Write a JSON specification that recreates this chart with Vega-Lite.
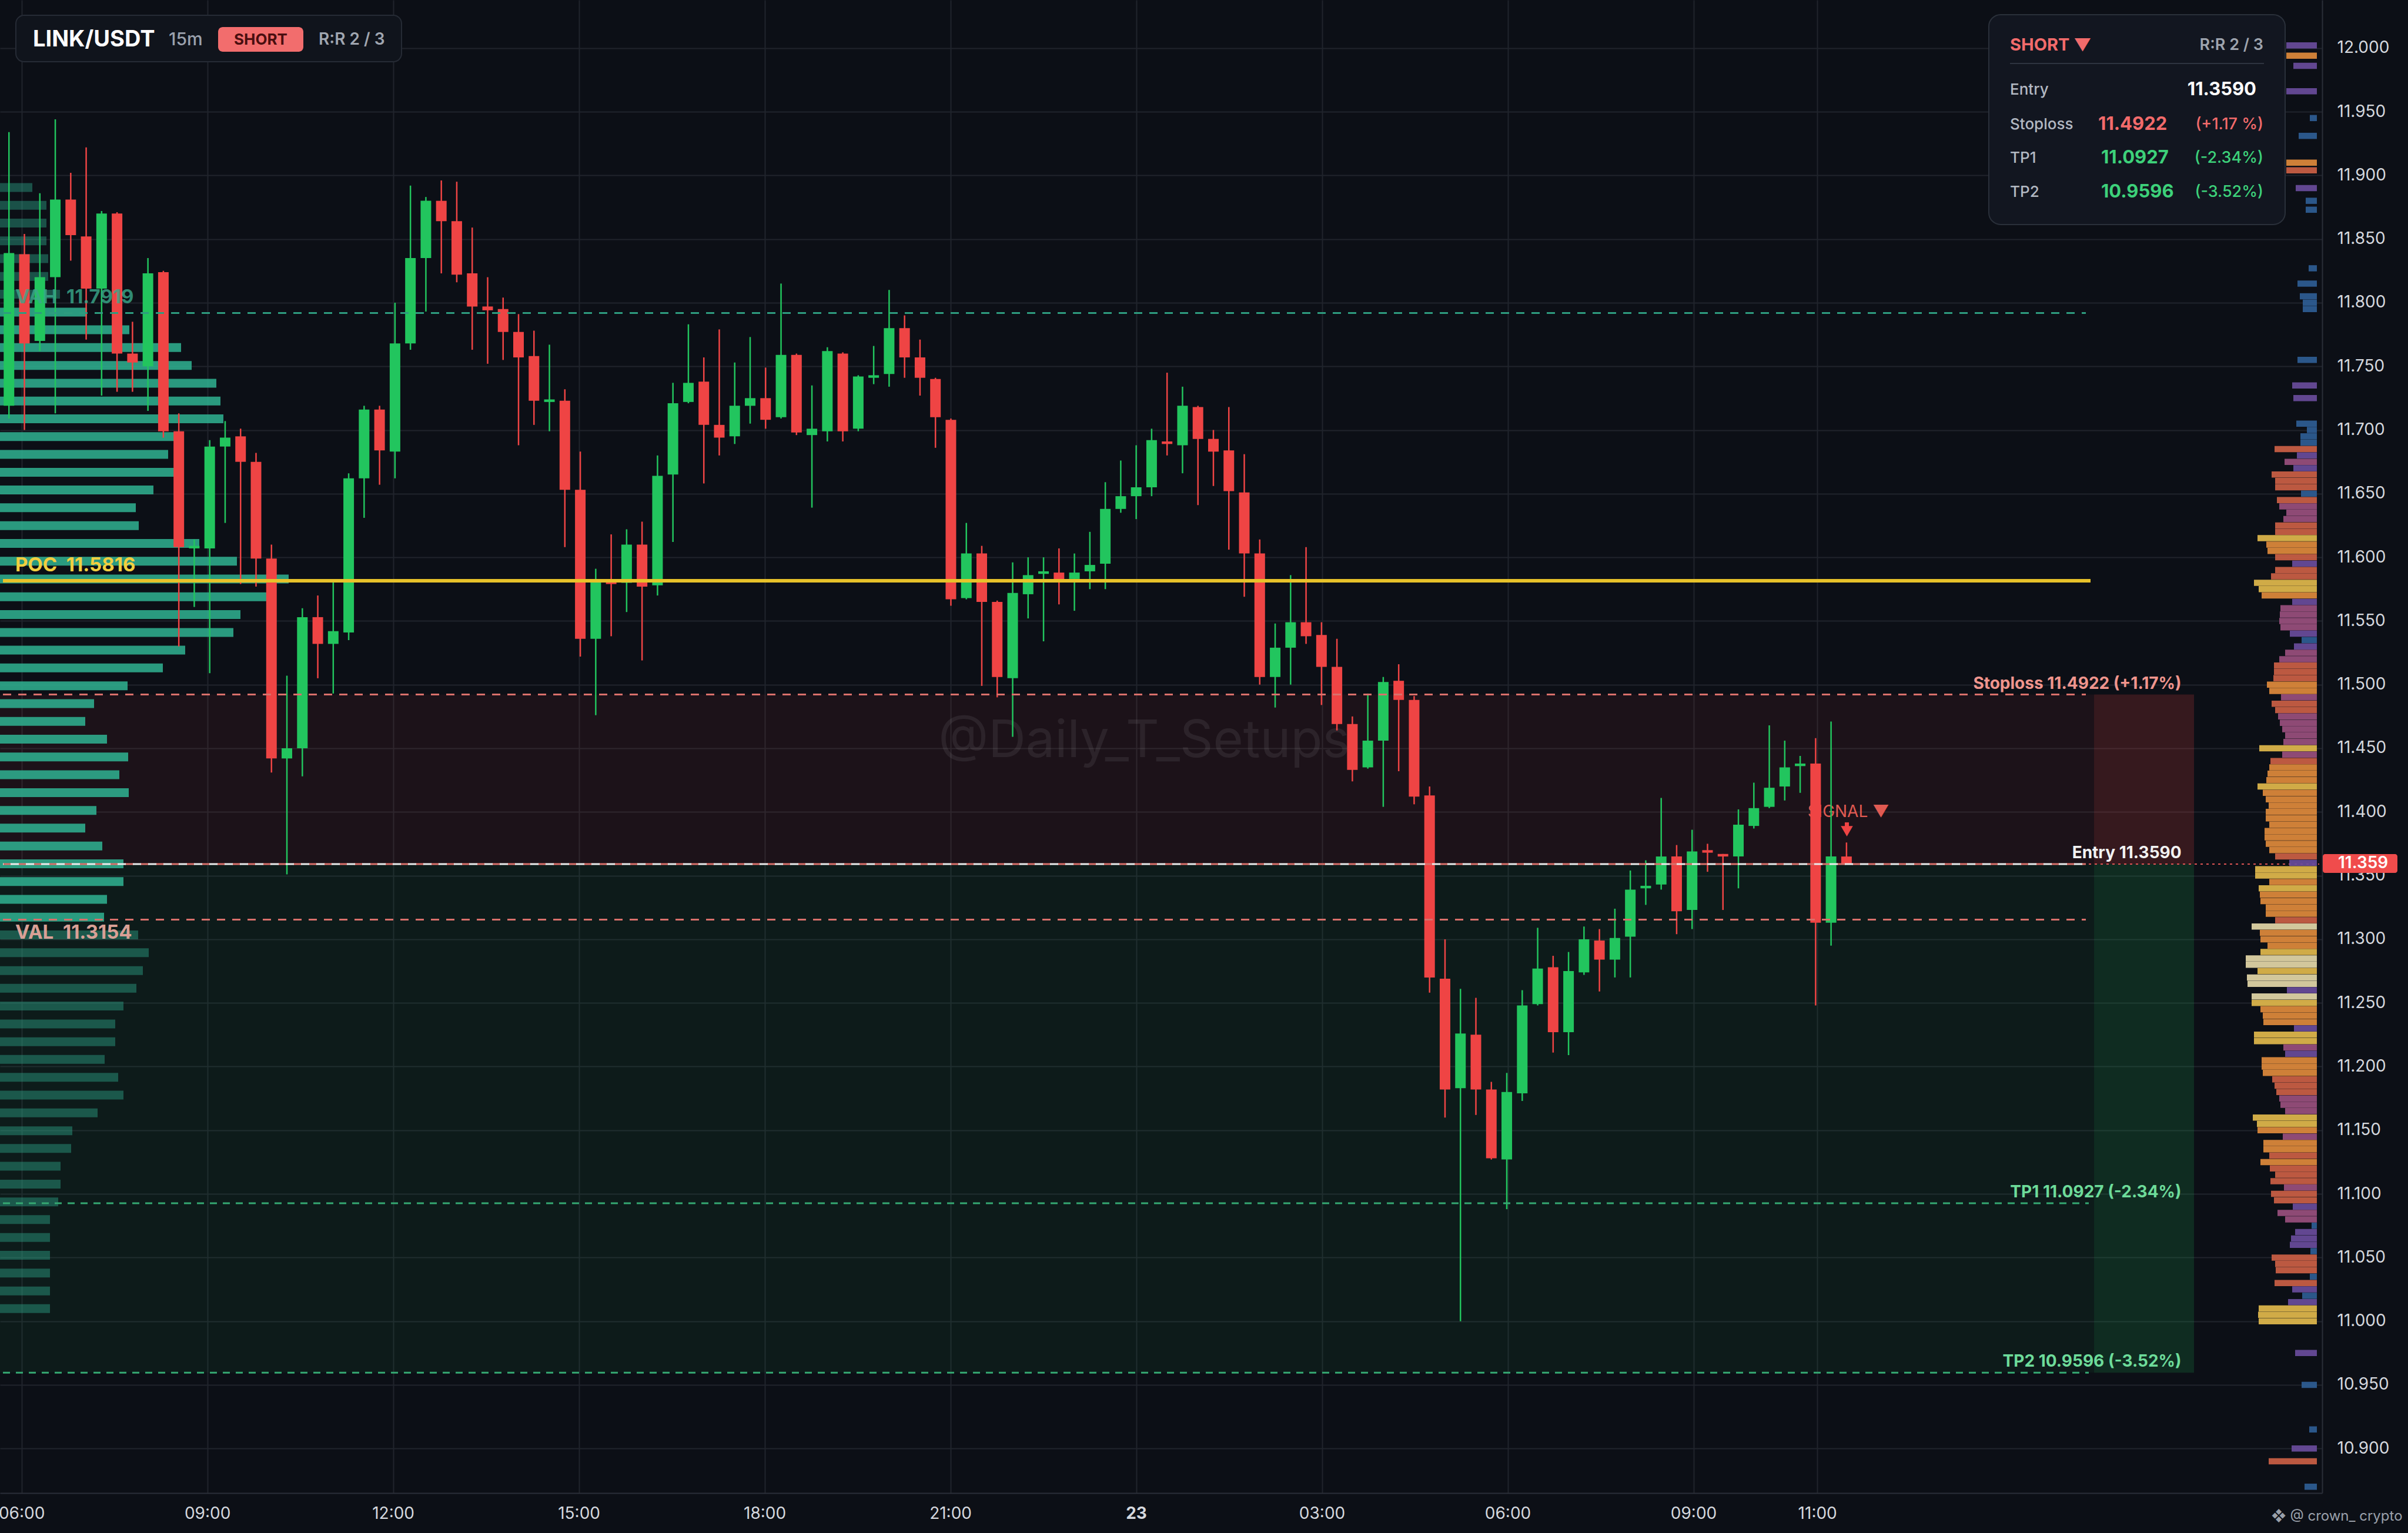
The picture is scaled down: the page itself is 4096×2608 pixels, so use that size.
{
  "$schema": "https://vega.github.io/schema/vega-lite/v6.json",
  "width": 3950,
  "height": 2540,
  "autosize": {"type": "none"},
  "padding": {"left": 0, "top": 0, "right": 146, "bottom": 68},
  "background": "#0c0f16",
  "config": {"view": {"stroke": null}, "font": "Inter"},
  "data": {"values": [{}]},
  "datasets": {
    "candles": [
      {"h":5.75,"o":11.719,"hi":11.934,"lo":11.709,"c":11.839},
      {"h":6,"o":11.838,"hi":11.854,"lo":11.700,"c":11.768},
      {"h":6.25,"o":11.770,"hi":11.886,"lo":11.762,"c":11.820},
      {"h":6.5,"o":11.820,"hi":11.944,"lo":11.713,"c":11.881},
      {"h":6.75,"o":11.881,"hi":11.902,"lo":11.833,"c":11.853},
      {"h":7,"o":11.852,"hi":11.922,"lo":11.771,"c":11.811},
      {"h":7.25,"o":11.811,"hi":11.872,"lo":11.727,"c":11.870},
      {"h":7.5,"o":11.870,"hi":11.871,"lo":11.730,"c":11.760},
      {"h":7.75,"o":11.760,"hi":11.785,"lo":11.730,"c":11.753},
      {"h":8,"o":11.750,"hi":11.835,"lo":11.715,"c":11.823},
      {"h":8.25,"o":11.824,"hi":11.825,"lo":11.694,"c":11.699},
      {"h":8.5,"o":11.699,"hi":11.713,"lo":11.530,"c":11.608},
      {"h":8.75,"o":11.607,"hi":11.614,"lo":11.561,"c":11.609},
      {"h":9,"o":11.607,"hi":11.692,"lo":11.509,"c":11.687},
      {"h":9.25,"o":11.687,"hi":11.707,"lo":11.627,"c":11.694},
      {"h":9.5,"o":11.695,"hi":11.701,"lo":11.579,"c":11.675},
      {"h":9.75,"o":11.675,"hi":11.682,"lo":11.577,"c":11.599},
      {"h":10,"o":11.599,"hi":11.610,"lo":11.431,"c":11.442},
      {"h":10.25,"o":11.442,"hi":11.507,"lo":11.351,"c":11.450},
      {"h":10.5,"o":11.450,"hi":11.560,"lo":11.428,"c":11.553},
      {"h":10.75,"o":11.553,"hi":11.570,"lo":11.505,"c":11.532},
      {"h":11,"o":11.532,"hi":11.581,"lo":11.493,"c":11.542},
      {"h":11.25,"o":11.541,"hi":11.666,"lo":11.535,"c":11.662},
      {"h":11.5,"o":11.662,"hi":11.719,"lo":11.631,"c":11.716},
      {"h":11.75,"o":11.716,"hi":11.719,"lo":11.657,"c":11.684},
      {"h":12,"o":11.683,"hi":11.800,"lo":11.662,"c":11.768},
      {"h":12.25,"o":11.768,"hi":11.892,"lo":11.763,"c":11.835},
      {"h":12.5,"o":11.835,"hi":11.883,"lo":11.793,"c":11.880},
      {"h":12.75,"o":11.880,"hi":11.896,"lo":11.823,"c":11.864},
      {"h":13,"o":11.864,"hi":11.895,"lo":11.816,"c":11.822},
      {"h":13.25,"o":11.823,"hi":11.859,"lo":11.763,"c":11.797},
      {"h":13.5,"o":11.797,"hi":11.820,"lo":11.752,"c":11.794},
      {"h":13.75,"o":11.795,"hi":11.804,"lo":11.755,"c":11.777},
      {"h":14,"o":11.777,"hi":11.791,"lo":11.688,"c":11.757},
      {"h":14.25,"o":11.758,"hi":11.778,"lo":11.704,"c":11.723},
      {"h":14.5,"o":11.722,"hi":11.767,"lo":11.699,"c":11.724},
      {"h":14.75,"o":11.723,"hi":11.732,"lo":11.608,"c":11.653},
      {"h":15,"o":11.653,"hi":11.683,"lo":11.522,"c":11.536},
      {"h":15.25,"o":11.536,"hi":11.591,"lo":11.476,"c":11.583},
      {"h":15.5,"o":11.582,"hi":11.618,"lo":11.538,"c":11.579},
      {"h":15.75,"o":11.580,"hi":11.622,"lo":11.557,"c":11.610},
      {"h":16,"o":11.610,"hi":11.628,"lo":11.519,"c":11.577},
      {"h":16.25,"o":11.578,"hi":11.680,"lo":11.570,"c":11.664},
      {"h":16.5,"o":11.665,"hi":11.737,"lo":11.612,"c":11.721},
      {"h":16.75,"o":11.722,"hi":11.783,"lo":11.721,"c":11.737},
      {"h":17,"o":11.738,"hi":11.757,"lo":11.658,"c":11.704},
      {"h":17.25,"o":11.704,"hi":11.779,"lo":11.680,"c":11.694},
      {"h":17.5,"o":11.695,"hi":11.753,"lo":11.689,"c":11.719},
      {"h":17.75,"o":11.719,"hi":11.773,"lo":11.705,"c":11.725},
      {"h":18,"o":11.725,"hi":11.749,"lo":11.701,"c":11.708},
      {"h":18.25,"o":11.710,"hi":11.815,"lo":11.709,"c":11.759},
      {"h":18.5,"o":11.759,"hi":11.760,"lo":11.696,"c":11.698},
      {"h":18.75,"o":11.696,"hi":11.735,"lo":11.639,"c":11.701},
      {"h":19,"o":11.699,"hi":11.765,"lo":11.691,"c":11.762},
      {"h":19.25,"o":11.760,"hi":11.761,"lo":11.691,"c":11.699},
      {"h":19.5,"o":11.701,"hi":11.743,"lo":11.699,"c":11.742},
      {"h":19.75,"o":11.741,"hi":11.766,"lo":11.736,"c":11.743},
      {"h":20,"o":11.744,"hi":11.810,"lo":11.734,"c":11.780},
      {"h":20.25,"o":11.780,"hi":11.790,"lo":11.741,"c":11.757},
      {"h":20.5,"o":11.757,"hi":11.771,"lo":11.727,"c":11.741},
      {"h":20.75,"o":11.740,"hi":11.741,"lo":11.686,"c":11.710},
      {"h":21,"o":11.708,"hi":11.709,"lo":11.562,"c":11.567},
      {"h":21.25,"o":11.568,"hi":11.627,"lo":11.567,"c":11.603},
      {"h":21.5,"o":11.603,"hi":11.609,"lo":11.499,"c":11.565},
      {"h":21.75,"o":11.565,"hi":11.566,"lo":11.490,"c":11.506},
      {"h":22,"o":11.505,"hi":11.596,"lo":11.459,"c":11.572},
      {"h":22.25,"o":11.571,"hi":11.600,"lo":11.552,"c":11.586},
      {"h":22.5,"o":11.587,"hi":11.600,"lo":11.534,"c":11.589},
      {"h":22.75,"o":11.588,"hi":11.607,"lo":11.563,"c":11.582},
      {"h":23,"o":11.583,"hi":11.603,"lo":11.558,"c":11.588},
      {"h":23.25,"o":11.589,"hi":11.620,"lo":11.575,"c":11.594},
      {"h":23.5,"o":11.595,"hi":11.659,"lo":11.575,"c":11.638},
      {"h":23.75,"o":11.638,"hi":11.676,"lo":11.635,"c":11.648},
      {"h":24,"o":11.648,"hi":11.688,"lo":11.630,"c":11.655},
      {"h":24.25,"o":11.655,"hi":11.701,"lo":11.648,"c":11.692},
      {"h":24.5,"o":11.691,"hi":11.745,"lo":11.680,"c":11.689},
      {"h":24.75,"o":11.688,"hi":11.734,"lo":11.666,"c":11.719},
      {"h":25,"o":11.718,"hi":11.719,"lo":11.641,"c":11.693},
      {"h":25.25,"o":11.693,"hi":11.700,"lo":11.656,"c":11.683},
      {"h":25.5,"o":11.684,"hi":11.718,"lo":11.606,"c":11.652},
      {"h":25.75,"o":11.651,"hi":11.681,"lo":11.569,"c":11.603},
      {"h":26,"o":11.603,"hi":11.614,"lo":11.500,"c":11.506},
      {"h":26.25,"o":11.506,"hi":11.548,"lo":11.482,"c":11.529},
      {"h":26.5,"o":11.529,"hi":11.586,"lo":11.500,"c":11.549},
      {"h":26.75,"o":11.549,"hi":11.608,"lo":11.532,"c":11.538},
      {"h":27,"o":11.539,"hi":11.549,"lo":11.484,"c":11.514},
      {"h":27.25,"o":11.514,"hi":11.536,"lo":11.464,"c":11.469},
      {"h":27.5,"o":11.469,"hi":11.475,"lo":11.424,"c":11.433},
      {"h":27.75,"o":11.435,"hi":11.493,"lo":11.434,"c":11.456},
      {"h":28,"o":11.456,"hi":11.506,"lo":11.404,"c":11.502},
      {"h":28.25,"o":11.503,"hi":11.516,"lo":11.432,"c":11.488},
      {"h":28.5,"o":11.488,"hi":11.491,"lo":11.406,"c":11.412},
      {"h":28.75,"o":11.413,"hi":11.420,"lo":11.258,"c":11.270},
      {"h":29,"o":11.269,"hi":11.300,"lo":11.160,"c":11.182},
      {"h":29.25,"o":11.183,"hi":11.261,"lo":11.000,"c":11.226},
      {"h":29.5,"o":11.225,"hi":11.254,"lo":11.162,"c":11.182},
      {"h":29.75,"o":11.182,"hi":11.188,"lo":11.127,"c":11.128},
      {"h":30,"o":11.127,"hi":11.195,"lo":11.088,"c":11.180},
      {"h":30.25,"o":11.179,"hi":11.260,"lo":11.173,"c":11.248},
      {"h":30.5,"o":11.249,"hi":11.309,"lo":11.248,"c":11.277},
      {"h":30.75,"o":11.278,"hi":11.287,"lo":11.211,"c":11.227},
      {"h":31,"o":11.227,"hi":11.290,"lo":11.209,"c":11.275},
      {"h":31.25,"o":11.274,"hi":11.310,"lo":11.272,"c":11.300},
      {"h":31.5,"o":11.299,"hi":11.308,"lo":11.259,"c":11.284},
      {"h":31.75,"o":11.284,"hi":11.324,"lo":11.270,"c":11.301},
      {"h":32,"o":11.302,"hi":11.354,"lo":11.270,"c":11.339},
      {"h":32.25,"o":11.340,"hi":11.362,"lo":11.327,"c":11.342},
      {"h":32.5,"o":11.343,"hi":11.411,"lo":11.339,"c":11.365},
      {"h":32.75,"o":11.365,"hi":11.374,"lo":11.304,"c":11.322},
      {"h":33,"o":11.323,"hi":11.386,"lo":11.308,"c":11.369},
      {"h":33.25,"o":11.370,"hi":11.375,"lo":11.353,"c":11.368},
      {"h":33.5,"o":11.367,"hi":11.367,"lo":11.323,"c":11.365},
      {"h":33.75,"o":11.365,"hi":11.402,"lo":11.340,"c":11.390},
      {"h":34,"o":11.389,"hi":11.423,"lo":11.387,"c":11.403},
      {"h":34.25,"o":11.404,"hi":11.468,"lo":11.403,"c":11.419},
      {"h":34.5,"o":11.420,"hi":11.456,"lo":11.409,"c":11.435},
      {"h":34.75,"o":11.436,"hi":11.444,"lo":11.415,"c":11.438},
      {"h":35,"o":11.438,"hi":11.458,"lo":11.248,"c":11.313},
      {"h":35.25,"o":11.313,"hi":11.471,"lo":11.295,"c":11.365},
      {"h":35.5,"o":11.365,"hi":11.376,"lo":11.359,"c":11.359}
    ],
    "lp": [
      {"p":11.8905,"v":55},{"p":11.8765,"v":79},{"p":11.8625,"v":79},{"p":11.8486,"v":79},
      {"p":11.8346,"v":82},{"p":11.8206,"v":82},{"p":11.8066,"v":102},{"p":11.7926,"v":148},
      {"p":11.7787,"v":220},{"p":11.7647,"v":308},{"p":11.7507,"v":326},{"p":11.7367,"v":368},
      {"p":11.7227,"v":375},{"p":11.7088,"v":380},{"p":11.6948,"v":300},{"p":11.6808,"v":286},
      {"p":11.6668,"v":308},{"p":11.6529,"v":261},{"p":11.6389,"v":231},{"p":11.6249,"v":236},
      {"p":11.6109,"v":339},{"p":11.5969,"v":403},{"p":11.5830,"v":491},{"p":11.5690,"v":468},
      {"p":11.5550,"v":409},{"p":11.5410,"v":397},{"p":11.5271,"v":315},{"p":11.5131,"v":277},
      {"p":11.4991,"v":217},{"p":11.4851,"v":160},{"p":11.4711,"v":145},{"p":11.4572,"v":182},
      {"p":11.4432,"v":218},{"p":11.4292,"v":203},{"p":11.4152,"v":219},{"p":11.4012,"v":164},
      {"p":11.3873,"v":145},{"p":11.3733,"v":174},{"p":11.3593,"v":210},{"p":11.3453,"v":210},
      {"p":11.3314,"v":182},{"p":11.3174,"v":177},{"p":11.3034,"v":235},{"p":11.2894,"v":253},
      {"p":11.2754,"v":243},{"p":11.2615,"v":232},{"p":11.2475,"v":210},{"p":11.2335,"v":196},
      {"p":11.2195,"v":196},{"p":11.2056,"v":178},{"p":11.1916,"v":201},{"p":11.1776,"v":210},
      {"p":11.1636,"v":166},{"p":11.1496,"v":123},{"p":11.1357,"v":121},{"p":11.1217,"v":103},
      {"p":11.1077,"v":103},{"p":11.0937,"v":99},{"p":11.0798,"v":85},{"p":11.0658,"v":85},
      {"p":11.0518,"v":85},{"p":11.0378,"v":85},{"p":11.0238,"v":85},{"p":11.0099,"v":85}
    ],
    "rp": [
      {"p":12.002,"v":52,"c":1},{"p":11.994,"v":52,"c":4},{"p":11.986,"v":40,"c":1},{"p":11.966,"v":52,"c":1},
      {"p":11.945,"v":12,"c":0},{"p":11.931,"v":31,"c":0},{"p":11.910,"v":52,"c":4},{"p":11.904,"v":52,"c":3},
      {"p":11.890,"v":36,"c":1},{"p":11.880,"v":19,"c":0},{"p":11.873,"v":19,"c":0},
      {"p":11.827,"v":14,"c":0},{"p":11.815,"v":33,"c":0},{"p":11.805,"v":29,"c":0},{"p":11.800,"v":24,"c":0},
      {"p":11.795,"v":24,"c":0},{"p":11.755,"v":33,"c":0},{"p":11.735,"v":42,"c":1},{"p":11.725,"v":40,"c":1},
      {"p":11.705,"v":35,"c":0},{"p":11.700,"v":17,"c":0},{"p":11.695,"v":28,"c":0},{"p":11.690,"v":28,"c":0},
      {"p":11.685,"v":72,"c":3},{"p":11.680,"v":34,"c":1},{"p":11.675,"v":55,"c":2},{"p":11.670,"v":40,"c":1},
      {"p":11.665,"v":77,"c":3},{"p":11.660,"v":71,"c":3},{"p":11.655,"v":71,"c":3},{"p":11.650,"v":27,"c":0},
      {"p":11.645,"v":68,"c":3},{"p":11.640,"v":64,"c":2},{"p":11.635,"v":52,"c":2},{"p":11.630,"v":57,"c":2},
      {"p":11.625,"v":71,"c":3},{"p":11.620,"v":71,"c":3},{"p":11.615,"v":101,"c":5},{"p":11.610,"v":86,"c":4},
      {"p":11.605,"v":84,"c":4},{"p":11.600,"v":71,"c":3},{"p":11.595,"v":42,"c":1},{"p":11.590,"v":71,"c":3},
      {"p":11.585,"v":78,"c":3},{"p":11.580,"v":107,"c":5},{"p":11.575,"v":99,"c":5},{"p":11.570,"v":94,"c":4},
      {"p":11.565,"v":42,"c":1},{"p":11.560,"v":62,"c":2},{"p":11.555,"v":63,"c":2},{"p":11.550,"v":64,"c":2},
      {"p":11.545,"v":62,"c":2},{"p":11.540,"v":46,"c":1},{"p":11.535,"v":26,"c":0},{"p":11.530,"v":39,"c":1},
      {"p":11.525,"v":54,"c":2},{"p":11.520,"v":64,"c":2},{"p":11.515,"v":73,"c":3},{"p":11.510,"v":73,"c":3},
      {"p":11.505,"v":74,"c":3},{"p":11.500,"v":85,"c":4},{"p":11.495,"v":81,"c":4},{"p":11.490,"v":61,"c":2},
      {"p":11.485,"v":77,"c":3},{"p":11.480,"v":71,"c":3},{"p":11.475,"v":66,"c":2},{"p":11.470,"v":63,"c":2},
      {"p":11.465,"v":59,"c":2},{"p":11.460,"v":54,"c":2},{"p":11.455,"v":57,"c":2},{"p":11.450,"v":98,"c":5},
      {"p":11.445,"v":59,"c":2},{"p":11.440,"v":79,"c":3},{"p":11.435,"v":81,"c":4},{"p":11.430,"v":84,"c":4},
      {"p":11.425,"v":86,"c":4},{"p":11.420,"v":101,"c":5},{"p":11.415,"v":92,"c":4},{"p":11.410,"v":87,"c":4},
      {"p":11.405,"v":82,"c":4},{"p":11.400,"v":87,"c":4},{"p":11.395,"v":87,"c":4},{"p":11.390,"v":81,"c":4},
      {"p":11.385,"v":89,"c":4},{"p":11.380,"v":89,"c":4},{"p":11.375,"v":87,"c":4},{"p":11.370,"v":81,"c":4},
      {"p":11.365,"v":71,"c":3},{"p":11.360,"v":47,"c":1},{"p":11.355,"v":105,"c":5},{"p":11.350,"v":105,"c":5},
      {"p":11.345,"v":81,"c":4},{"p":11.340,"v":99,"c":5},{"p":11.335,"v":97,"c":4},{"p":11.330,"v":96,"c":4},
      {"p":11.325,"v":87,"c":4},{"p":11.320,"v":87,"c":4},{"p":11.315,"v":71,"c":3},{"p":11.310,"v":111,"c":6},
      {"p":11.305,"v":97,"c":4},{"p":11.300,"v":96,"c":4},{"p":11.295,"v":84,"c":4},{"p":11.290,"v":96,"c":5},
      {"p":11.285,"v":121,"c":6},{"p":11.280,"v":121,"c":6},{"p":11.275,"v":101,"c":5},{"p":11.270,"v":119,"c":6},
      {"p":11.265,"v":118,"c":6},{"p":11.260,"v":51,"c":1},{"p":11.255,"v":111,"c":6},{"p":11.250,"v":111,"c":5},
      {"p":11.245,"v":96,"c":4},{"p":11.240,"v":92,"c":4},{"p":11.235,"v":91,"c":4},{"p":11.230,"v":39,"c":1},
      {"p":11.225,"v":107,"c":5},{"p":11.220,"v":107,"c":5},{"p":11.215,"v":57,"c":2},{"p":11.210,"v":54,"c":1},
      {"p":11.205,"v":94,"c":4},{"p":11.200,"v":94,"c":4},{"p":11.195,"v":92,"c":4},{"p":11.190,"v":76,"c":3},
      {"p":11.185,"v":72,"c":3},{"p":11.180,"v":69,"c":3},{"p":11.175,"v":64,"c":2},{"p":11.170,"v":62,"c":2},
      {"p":11.165,"v":54,"c":2},{"p":11.160,"v":109,"c":5},{"p":11.155,"v":102,"c":5},{"p":11.150,"v":101,"c":4},
      {"p":11.145,"v":58,"c":2},{"p":11.140,"v":91,"c":4},{"p":11.135,"v":91,"c":4},{"p":11.130,"v":81,"c":3},
      {"p":11.125,"v":96,"c":4},{"p":11.120,"v":80,"c":3},{"p":11.115,"v":71,"c":3},{"p":11.110,"v":79,"c":3},
      {"p":11.105,"v":56,"c":2},{"p":11.100,"v":78,"c":3},{"p":11.095,"v":73,"c":3},{"p":11.090,"v":41,"c":1},
      {"p":11.085,"v":67,"c":2},{"p":11.080,"v":54,"c":2},{"p":11.075,"v":9,"c":0},{"p":11.070,"v":37,"c":1},
      {"p":11.065,"v":44,"c":1},{"p":11.060,"v":46,"c":1},{"p":11.055,"v":11,"c":0},{"p":11.050,"v":77,"c":3},
      {"p":11.045,"v":71,"c":3},{"p":11.040,"v":70,"c":3},{"p":11.035,"v":12,"c":0},{"p":11.030,"v":72,"c":3},
      {"p":11.025,"v":42,"c":1},{"p":11.020,"v":25,"c":0},{"p":11.015,"v":49,"c":1},{"p":11.010,"v":99,"c":5},
      {"p":11.005,"v":100,"c":5},{"p":11.000,"v":99,"c":5},{"p":10.975,"v":37,"c":1},{"p":10.950,"v":26,"c":0},
      {"p":10.915,"v":13,"c":0},{"p":10.900,"v":43,"c":1},{"p":10.890,"v":82,"c":3},{"p":10.870,"v":21,"c":0}
    ],
    "levels": [
      {"name":"VAH","p":11.7919,"label":"VAH \u00a011.7919"},
      {"name":"POC","p":11.5816,"label":"POC \u00a011.5816"},
      {"name":"SL","p":11.4922,"label":"Stoploss 11.4922 (+1.17%)"},
      {"name":"Entry","p":11.359,"label":"Entry 11.3590"},
      {"name":"VAL","p":11.3154,"label":"VAL \u00a011.3154"},
      {"name":"TP1","p":11.0927,"label":"TP1 11.0927 (-2.34%)"},
      {"name":"TP2","p":10.9596,"label":"TP2 10.9596 (-3.52%)"}
    ],
    "zones": [
      {"side":"risk","lo":11.359,"hi":11.4922},
      {"side":"reward","lo":10.9596,"hi":11.359}
    ]
  },
  "resolve": {"scale": {"x": "independent", "y": "independent"}},
  "layer": [
    {
      "data": {"name": "candles"},
      "mark": {"type": "rule", "opacity": 0},
      "encoding": {
        "x": {
          "field": "h", "type": "quantitative",
          "scale": {"domain": [5.6525, 43.1536], "nice": false, "zero": false},
          "axis": {
            "values": [6, 9, 12, 15, 18, 21, 24, 27, 30, 33, 35],
            "labelExpr": "datum.value == 24 ? '23' : ((datum.value % 24) < 10 ? '0' : '') + (datum.value % 24) + ':00'",
            "labelFontWeight": {"condition": {"test": "datum.value == 24", "value": "bold"}, "value": "normal"},
            "grid": true, "gridColor": "#20242c", "gridWidth": 2,
            "ticks": false, "domain": true, "domainColor": "#2a2f38", "domainWidth": 2,
            "labelColor": "#d5d8de", "labelFontSize": 28, "labelPadding": 21,
            "labelFlush": false, "labelOverlap": false, "title": null
          }
        },
        "y": {
          "field": "lo", "type": "quantitative",
          "scale": {"domain": [10.86505, 12.03772], "nice": false, "zero": false},
          "axis": {
            "orient": "right",
            "values": [10.9, 10.95, 11.0, 11.05, 11.1, 11.15, 11.2, 11.25, 11.3, 11.35, 11.4, 11.45, 11.5, 11.55, 11.6, 11.65, 11.7, 11.75, 11.8, 11.85, 11.9, 11.95, 12.0],
            "format": ".3f",
            "grid": true, "gridColor": "#20242c", "gridWidth": 2,
            "ticks": false, "domain": true, "domainColor": "#2a2f38", "domainWidth": 2,
            "labelColor": "#d5d8de", "labelFontSize": 28, "labelPadding": 25,
            "labelOverlap": false, "title": null
          }
        }
      }
    },
    {
      "layer": [
        {
          "data": {"name": "zones"},
          "mark": {"type": "rect"},
          "encoding": {
            "x": {"datum": 5.6525, "type": "quantitative", "scale": {"domain": [5.6525, 43.1536], "nice": false, "zero": false}, "axis": null},
            "x2": {"datum": 39.47},
            "y": {"field": "lo", "type": "quantitative", "scale": {"domain": [10.86505, 12.03772], "nice": false, "zero": false}, "axis": null},
            "y2": {"field": "hi"},
            "color": {"condition": {"test": "datum.side == 'risk'", "value": "#ef4444"}, "value": "#22c55e"},
            "opacity": {"condition": {"test": "datum.side == 'risk'", "value": 0.07}, "value": 0.066}
          }
        },
        {
          "data": {"name": "zones"},
          "mark": {"type": "rect"},
          "encoding": {
            "x": {"datum": 39.47, "type": "quantitative", "axis": null},
            "x2": {"datum": 41.084},
            "y": {"field": "lo", "type": "quantitative", "axis": null},
            "y2": {"field": "hi"},
            "color": {"condition": {"test": "datum.side == 'risk'", "value": "#ef4444"}, "value": "#22c55e"},
            "opacity": {"condition": {"test": "datum.side == 'risk'", "value": 0.19}, "value": 0.16}
          }
        }
      ]
    },
    {
      "data": {"name": "lp"},
      "mark": {"type": "rule", "strokeWidth": 15, "strokeCap": "butt"},
      "encoding": {
        "x": {"field": "v", "type": "quantitative", "scale": {"domain": [0, 3950], "nice": false, "zero": false}, "axis": null},
        "x2": {"datum": 0},
        "y": {"field": "p", "type": "quantitative", "scale": {"domain": [10.86505, 12.03772], "nice": false, "zero": false}, "axis": null},
        "color": {"value": "#2fae8e"},
        "opacity": {"condition": {"test": "datum.p >= 11.31 && datum.p <= 11.795", "value": 0.88}, "value": 0.42}
      }
    },
    {
      "layer": [
        {
          "mark": {"type": "text", "text": "@Daily_T_Setups", "fontSize": 88, "color": "#ffffff", "opacity": 0.07},
          "encoding": {
            "x": {"datum": 24.128, "type": "quantitative", "scale": {"domain": [5.6525, 43.1536], "nice": false, "zero": false}, "axis": null},
            "y": {"datum": 11.4551, "type": "quantitative", "scale": {"domain": [10.86505, 12.03772], "nice": false, "zero": false}, "axis": null}
          }
        },
        {
          "mark": {"type": "text", "text": "SIGNAL ▼", "fontSize": 28, "color": "#e05a52"},
          "encoding": {
            "x": {"datum": 35.53, "type": "quantitative", "axis": null},
            "y": {"datum": 11.3997, "type": "quantitative", "axis": null}
          }
        },
        {
          "data": {"name": "candles"},
          "mark": {"type": "rule", "strokeWidth": 2.5},
          "encoding": {
            "x": {"field": "h", "type": "quantitative", "axis": null},
            "y": {"field": "lo", "type": "quantitative", "axis": null},
            "y2": {"field": "hi"},
            "color": {"condition": {"test": "datum.c >= datum.o", "value": "#22c55e"}, "value": "#ef4444"}
          }
        },
        {
          "data": {"name": "candles"},
          "mark": {"type": "bar", "size": 18},
          "encoding": {
            "x": {"field": "h", "type": "quantitative", "axis": null},
            "y": {"field": "o", "type": "quantitative", "axis": null},
            "y2": {"field": "c"},
            "color": {"condition": {"test": "datum.c >= datum.o", "value": "#22c55e"}, "value": "#ef4444"}
          }
        },
        {
          "data": {"name": "levels"},
          "transform": [{"filter": "datum.name == 'VAH' || datum.name == 'POC'"}],
          "mark": {"type": "text", "align": "left", "fontSize": 33, "fontWeight": "bold", "dy": -26},
          "encoding": {
            "x": {"datum": 5.852, "type": "quantitative", "axis": null},
            "y": {"field": "p", "type": "quantitative", "axis": null},
            "text": {"field": "label"},
            "color": {"condition": {"test": "datum.name == 'POC'", "value": "#f2cf3f"}, "value": "#3aa98b"},
            "opacity": {"condition": {"test": "datum.name == 'POC'", "value": 1}, "value": 0.8}
          }
        },
        {
          "data": {"name": "levels"},
          "transform": [{"filter": "datum.name == 'VAL'"}],
          "mark": {"type": "text", "align": "left", "fontSize": 33, "fontWeight": "bold", "dy": 22, "color": "#d9a096"},
          "encoding": {
            "x": {"datum": 5.852, "type": "quantitative", "axis": null},
            "y": {"field": "p", "type": "quantitative", "axis": null},
            "text": {"field": "label"}
          }
        },
        {
          "data": {"name": "levels"},
          "transform": [{"filter": "datum.name == 'VAH'"}],
          "mark": {"type": "rule", "color": "#2e9c7f", "strokeWidth": 3, "strokeDash": [14, 12]},
          "encoding": {
            "x": {"datum": 5.6525, "type": "quantitative", "axis": null},
            "x2": {"datum": 39.3751},
            "y": {"field": "p", "type": "quantitative", "axis": null}
          }
        },
        {
          "data": {"name": "levels"},
          "transform": [{"filter": "datum.name == 'POC'"}],
          "mark": {"type": "rule", "color": "#e8c22a", "strokeWidth": 6},
          "encoding": {
            "x": {"datum": 5.6525, "type": "quantitative", "axis": null},
            "x2": {"datum": 39.4511},
            "y": {"field": "p", "type": "quantitative", "axis": null}
          }
        },
        {
          "data": {"name": "levels"},
          "transform": [{"filter": "datum.name == 'SL' || datum.name == 'VAL' || datum.name == 'Entry'"}],
          "mark": {"type": "rule", "color": "#d9706b", "strokeWidth": 3, "strokeDash": [14, 12]},
          "encoding": {
            "x": {"datum": 5.6525, "type": "quantitative", "axis": null},
            "x2": {"datum": 39.3751},
            "y": {"field": "p", "type": "quantitative", "axis": null}
          }
        },
        {
          "data": {"name": "levels"},
          "transform": [{"filter": "datum.name == 'Entry'"}],
          "mark": {"type": "rule", "color": "#ececec", "strokeWidth": 3, "strokeDash": [14, 12], "strokeDashOffset": 13},
          "encoding": {
            "x": {"datum": 5.6525, "type": "quantitative", "axis": null},
            "x2": {"datum": 39.3751},
            "y": {"field": "p", "type": "quantitative", "axis": null}
          }
        },
        {
          "data": {"name": "levels"},
          "transform": [{"filter": "datum.name == 'Entry'"}],
          "mark": {"type": "rule", "color": "#e05555", "strokeWidth": 2, "strokeDash": [4, 6]},
          "encoding": {
            "x": {"datum": 39.4226, "type": "quantitative", "axis": null},
            "x2": {"datum": 43.1536},
            "y": {"field": "p", "type": "quantitative", "axis": null}
          }
        },
        {
          "data": {"name": "levels"},
          "transform": [{"filter": "datum.name == 'TP1' || datum.name == 'TP2'"}],
          "mark": {"type": "rule", "color": "#35a872", "strokeWidth": 3, "strokeDash": [12, 10]},
          "encoding": {
            "x": {"datum": 5.6525, "type": "quantitative", "axis": null},
            "x2": {"datum": 39.4226},
            "y": {"field": "p", "type": "quantitative", "axis": null}
          }
        },
        {
          "data": {"name": "levels"},
          "transform": [{"filter": "datum.name == 'SL' || datum.name == 'Entry' || datum.name == 'TP1' || datum.name == 'TP2'"}],
          "mark": {"type": "text", "align": "right", "fontSize": 28, "fontWeight": "bold", "dy": -18},
          "encoding": {
            "x": {"datum": 40.9226, "type": "quantitative", "axis": null},
            "y": {"field": "p", "type": "quantitative", "axis": null},
            "text": {"field": "label"},
            "color": {
              "condition": [
                {"test": "datum.name == 'SL'", "value": "#f0958d"},
                {"test": "datum.name == 'Entry'", "value": "#f2f2f2"}
              ],
              "value": "#6ddc9a"
            }
          }
        },
        {
          "mark": {"type": "rule", "color": "#ef4444", "strokeWidth": 7},
          "encoding": {
            "x": {"datum": 35.506, "type": "quantitative", "axis": null},
            "y": {"datum": 11.3918, "type": "quantitative", "axis": null},
            "y2": {"datum": 11.3868}
          }
        },
        {
          "mark": {"type": "point", "shape": "triangle-down", "filled": true, "size": 420, "color": "#ef4444", "opacity": 1},
          "encoding": {
            "x": {"datum": 35.506, "type": "quantitative", "axis": null},
            "y": {"datum": 11.3848, "type": "quantitative", "axis": null}
          }
        }
      ]
    },
    {
      "data": {"name": "rp"},
      "mark": {"type": "rule", "strokeWidth": 10.5, "strokeCap": "butt", "opacity": 0.92},
      "encoding": {
        "x": {"field": "v", "type": "quantitative", "scale": {"domain": [-9, 3941], "reverse": true, "nice": false, "zero": false}, "axis": null},
        "x2": {"datum": 0},
        "y": {"field": "p", "type": "quantitative", "scale": {"domain": [10.86505, 12.03772], "nice": false, "zero": false}, "axis": null},
        "color": {
          "field": "c", "type": "ordinal",
          "scale": {"domain": [0, 1, 2, 3, 4, 5, 6], "range": ["#2f5d95", "#6a4c9c", "#9a4f7e", "#cc5f45", "#df8a3c", "#e2b94c", "#e4d7a8"]},
          "legend": null
        }
      }
    },
    {
      "layer": [
        {
          "mark": {"type": "rect", "cornerRadius": 14, "fill": "#10141c", "stroke": "#262b35", "strokeWidth": 2},
          "encoding": {
            "x": {"datum": 5.9089, "type": "quantitative", "scale": {"domain": [5.6525, 43.1536], "nice": false, "zero": false}, "axis": null},
            "x2": {"datum": 12.137},
            "y": {"datum": 12.0257, "type": "quantitative", "scale": {"domain": [10.86505, 12.03772], "nice": false, "zero": false}, "axis": null},
            "y2": {"datum": 11.9892}
          }
        },
        {
          "mark": {"type": "text", "text": "LINK/USDT", "align": "left", "fontSize": 38, "fontWeight": "bold", "color": "#ffffff"},
          "encoding": {
            "x": {"datum": 6.1842, "type": "quantitative", "axis": null},
            "y": {"datum": 12.0063, "type": "quantitative", "axis": null}
          }
        },
        {
          "mark": {"type": "text", "text": "15m", "align": "left", "fontSize": 30, "fontWeight": 500, "color": "#9aa1ad"},
          "encoding": {
            "x": {"datum": 8.3773, "type": "quantitative", "axis": null},
            "y": {"datum": 12.0063, "type": "quantitative", "axis": null}
          }
        },
        {
          "mark": {"type": "rect", "cornerRadius": 8, "fill": "#f26d6d"},
          "encoding": {
            "x": {"datum": 9.1748, "type": "quantitative", "axis": null},
            "x2": {"datum": 10.5514},
            "y": {"datum": 12.0165, "type": "quantitative", "axis": null},
            "y2": {"datum": 11.9971}
          }
        },
        {
          "mark": {"type": "text", "text": "SHORT", "fontSize": 26, "fontWeight": "bold", "color": "#4a0e0f"},
          "encoding": {
            "x": {"datum": 9.8631, "type": "quantitative", "axis": null},
            "y": {"datum": 12.0063, "type": "quantitative", "axis": null}
          }
        },
        {
          "mark": {"type": "text", "text": "R:R 2 / 3", "align": "left", "fontSize": 28, "fontWeight": 600, "color": "#a0a6b0"},
          "encoding": {
            "x": {"datum": 10.7982, "type": "quantitative", "axis": null},
            "y": {"datum": 12.0063, "type": "quantitative", "axis": null}
          }
        },
        {
          "mark": {"type": "rect", "cornerRadius": 20, "fill": "#121620", "stroke": "#2a303a", "strokeWidth": 2},
          "encoding": {
            "x": {"datum": 37.7706, "type": "quantitative", "axis": null},
            "x2": {"datum": 42.5556},
            "y": {"datum": 12.0262, "type": "quantitative", "axis": null},
            "y2": {"datum": 11.8614}
          }
        },
        {
          "mark": {"type": "text", "text": "SHORT ▼", "align": "left", "fontSize": 29, "fontWeight": "bold", "color": "#f26b6b"},
          "encoding": {
            "x": {"datum": 38.1124, "type": "quantitative", "axis": null},
            "y": {"datum": 12.0022, "type": "quantitative", "axis": null}
          }
        },
        {
          "mark": {"type": "text", "text": "R:R 2 / 3", "align": "right", "fontSize": 27, "fontWeight": 600, "color": "#9ea4ae"},
          "encoding": {
            "x": {"datum": 42.2043, "type": "quantitative", "axis": null},
            "y": {"datum": 12.0022, "type": "quantitative", "axis": null}
          }
        },
        {
          "mark": {"type": "rule", "color": "#2e3440", "strokeWidth": 2},
          "encoding": {
            "x": {"datum": 38.1124, "type": "quantitative", "axis": null},
            "x2": {"datum": 42.2138},
            "y": {"datum": 11.9879, "type": "quantitative", "axis": null}
          }
        },
        {
          "mark": {"type": "text", "text": "Entry", "align": "left", "fontSize": 26, "fontWeight": 500, "color": "#b2b8c2"},
          "encoding": {
            "x": {"datum": 38.1124, "type": "quantitative", "axis": null},
            "y": {"datum": 11.9671, "type": "quantitative", "axis": null}
          }
        },
        {
          "mark": {"type": "text", "text": "Stoploss", "align": "left", "fontSize": 26, "fontWeight": 500, "color": "#b2b8c2"},
          "encoding": {
            "x": {"datum": 38.1124, "type": "quantitative", "axis": null},
            "y": {"datum": 11.9398, "type": "quantitative", "axis": null}
          }
        },
        {
          "mark": {"type": "text", "text": "TP1", "align": "left", "fontSize": 26, "fontWeight": 500, "color": "#b2b8c2"},
          "encoding": {
            "x": {"datum": 38.1124, "type": "quantitative", "axis": null},
            "y": {"datum": 11.9135, "type": "quantitative", "axis": null}
          }
        },
        {
          "mark": {"type": "text", "text": "TP2", "align": "left", "fontSize": 26, "fontWeight": 500, "color": "#b2b8c2"},
          "encoding": {
            "x": {"datum": 38.1124, "type": "quantitative", "axis": null},
            "y": {"datum": 11.8867, "type": "quantitative", "axis": null}
          }
        },
        {
          "mark": {"type": "text", "text": "11.3590", "align": "right", "fontSize": 31, "fontWeight": "bold", "color": "#ffffff"},
          "encoding": {
            "x": {"datum": 42.0904, "type": "quantitative", "axis": null},
            "y": {"datum": 11.9671, "type": "quantitative", "axis": null}
          }
        },
        {
          "mark": {"type": "text", "text": "11.4922", "align": "left", "fontSize": 31, "fontWeight": "bold", "color": "#f26b6b"},
          "encoding": {
            "x": {"datum": 39.5365, "type": "quantitative", "axis": null},
            "y": {"datum": 11.9398, "type": "quantitative", "axis": null}
          }
        },
        {
          "mark": {"type": "text", "text": "(+1.17 %)", "align": "right", "fontSize": 27, "fontWeight": 500, "color": "#f26b6b"},
          "encoding": {
            "x": {"datum": 42.2043, "type": "quantitative", "axis": null},
            "y": {"datum": 11.9398, "type": "quantitative", "axis": null}
          }
        },
        {
          "mark": {"type": "text", "text": "11.0927", "align": "left", "fontSize": 31, "fontWeight": "bold", "color": "#3dd17a"},
          "encoding": {
            "x": {"datum": 39.5839, "type": "quantitative", "axis": null},
            "y": {"datum": 11.9135, "type": "quantitative", "axis": null}
          }
        },
        {
          "mark": {"type": "text", "text": "(-2.34%)", "align": "right", "fontSize": 27, "fontWeight": 500, "color": "#3dd17a"},
          "encoding": {
            "x": {"datum": 42.2043, "type": "quantitative", "axis": null},
            "y": {"datum": 11.9135, "type": "quantitative", "axis": null}
          }
        },
        {
          "mark": {"type": "text", "text": "10.9596", "align": "left", "fontSize": 31, "fontWeight": "bold", "color": "#3dd17a"},
          "encoding": {
            "x": {"datum": 39.5839, "type": "quantitative", "axis": null},
            "y": {"datum": 11.8867, "type": "quantitative", "axis": null}
          }
        },
        {
          "mark": {"type": "text", "text": "(-3.52%)", "align": "right", "fontSize": 27, "fontWeight": 500, "color": "#3dd17a"},
          "encoding": {
            "x": {"datum": 42.2043, "type": "quantitative", "axis": null},
            "y": {"datum": 11.8867, "type": "quantitative", "axis": null}
          }
        },
        {
          "mark": {"type": "rect", "cornerRadius": 4, "fill": "#f04c4c"},
          "encoding": {
            "x": {"datum": 43.1632, "type": "quantitative", "axis": null},
            "x2": {"datum": 44.3689},
            "y": {"datum": 11.3669, "type": "quantitative", "axis": null},
            "y2": {"datum": 11.3521}
          }
        },
        {
          "mark": {"type": "text", "text": "11.359", "align": "left", "fontSize": 28, "fontWeight": 600, "color": "#ffffff"},
          "encoding": {
            "x": {"datum": 43.41, "type": "quantitative", "axis": null},
            "y": {"datum": 11.3595, "type": "quantitative", "axis": null}
          }
        },
        {
          "mark": {"type": "text", "text": "❖ @ crown_ crypto", "align": "right", "fontSize": 24, "color": "#9aa0aa"},
          "encoding": {
            "x": {"datum": 44.45, "type": "quantitative", "axis": null},
            "y": {"datum": 10.8466, "type": "quantitative", "axis": null}
          }
        }
      ]
    }
  ]
}
